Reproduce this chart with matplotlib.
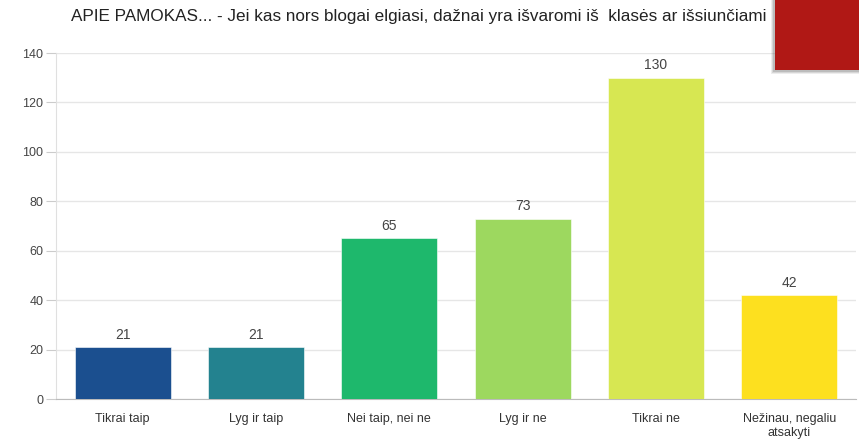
import matplotlib.pyplot as plt
from matplotlib.patches import Rectangle

plt.rcParams['font.family'] = ['Liberation Sans', 'DejaVu Sans']

title = "APIE PAMOKAS... - Jei kas nors blogai elgiasi, dažnai yra išvaromi iš  klasės ar išsiunčiami"
categories = ["Tikrai taip", "Lyg ir taip", "Nei taip, nei ne", "Lyg ir ne",
              "Tikrai ne", "Nežinau, negaliu\natsakyti"]
values = [21, 21, 65, 73, 130, 42]
colors = ["#1b4f8f", "#23828f", "#1eb86c", "#9dd85f", "#d7e752", "#fde01f"]

fig = plt.figure(figsize=(8.59, 4.41), dpi=100)
ax = fig.add_axes([56 / 859, 1 - 399 / 441, 800 / 859, 346 / 441])

x = range(len(values))
ax.bar(x, values, width=0.72, color=colors, edgecolor='white', linewidth=0.4, zorder=3)
for xi, v in zip(x, values):
    ax.text(xi, v + 2.2, str(v), ha='center', va='bottom', fontsize=10, color='#444444')

ax.set_xlim(-0.5, len(values) - 0.5)
ax.set_ylim(0, 140)
ax.set_yticks(range(0, 141, 20))
ax.set_xticks(list(x))
ax.set_xticklabels(categories, fontsize=9, color='#333333', linespacing=1.25)
ax.tick_params(axis='y', labelsize=9, labelcolor='#444444', length=7, color='#cccccc', pad=2)
ax.tick_params(axis='x', length=0, pad=10)
ax.grid(axis='y', color='#e6e6e6', lw=1, zorder=0)
for s in ['top', 'right']:
    ax.spines[s].set_visible(False)
ax.spines['left'].set_color('#e0e0e0')
ax.spines['bottom'].set_color('#bbbbbb')

fig.text(71 / 859, 1 - 17 / 441, title, fontsize=12.3, color='#222222', va='center', ha='left')

# red box overlay at top right with soft shadow
for off, a in [(4, 0.10), (3, 0.15), (2, 0.2)]:
    fig.patches.append(Rectangle(((775 - off) / 859, 1 - (70 + off) / 441), (84 + off) / 859, (70 + off) / 441,
                                 transform=fig.transFigure, color='#555555', alpha=a, lw=0, zorder=9))
fig.patches.append(Rectangle((775 / 859, 1 - 70 / 441), 84 / 859, 70 / 441,
                             transform=fig.transFigure, color='#b01815', lw=0, zorder=10))

fig.savefig("out.png", dpi=100)
